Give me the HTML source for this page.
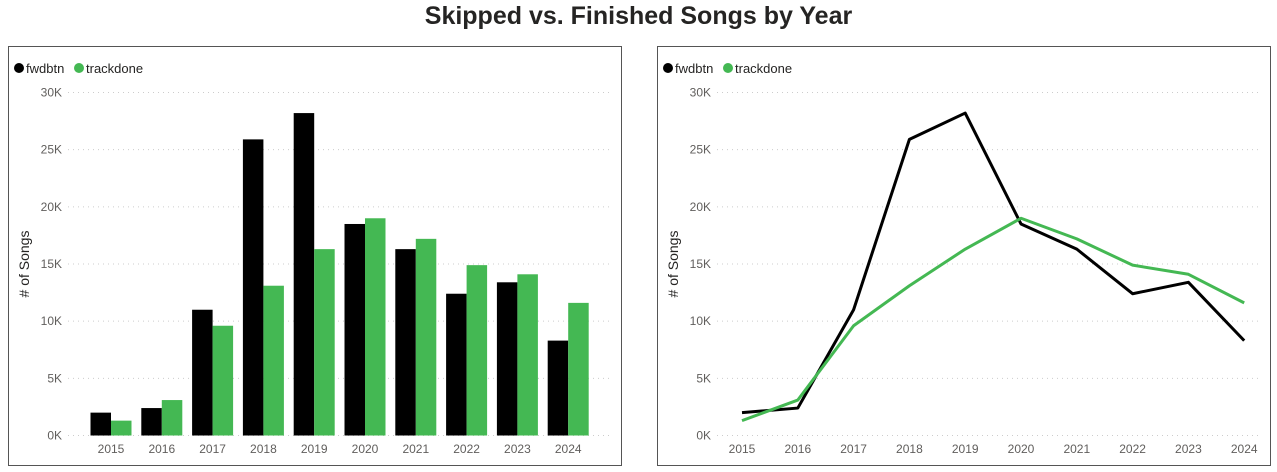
<!DOCTYPE html>
<html><head><meta charset="utf-8"><style>
body{margin:0;width:1277px;height:472px;background:#fff;font-family:"Liberation Sans",sans-serif;overflow:hidden;position:relative}
.title{position:absolute;left:0;width:1277px;top:2px;text-align:center;font-size:25px;font-weight:bold;color:#252423}
.panel{position:absolute;top:46px;width:614px;height:420px;border:1px solid #555;box-sizing:border-box}
svg{position:absolute;left:0;top:0}
text{font-family:"Liberation Sans",sans-serif}
</style></head><body>
<div class="title">Skipped vs. Finished Songs by Year</div>
<div class="panel" style="left:8px"></div>
<div class="panel" style="left:657px"></div>
<svg id="s" width="1277" height="472"></svg>
<script>
const years=["2015","2016","2017","2018","2019","2020","2021","2022","2023","2024"];
const fwdbtn=[2.0,2.4,11.0,25.9,28.2,18.5,16.3,12.4,13.4,8.3];
const trackdone=[1.3,3.1,9.6,13.1,16.3,19.0,17.2,14.9,14.1,11.6];
const ticks=[0,5,10,15,20,25,30];
const tickLabels=["0K","5K","10K","15K","20K","25K","30K"];
const NS="http://www.w3.org/2000/svg",s=document.getElementById('s');
const y=v=>435.5-v*(343/30);
function el(t,a,txt){const e=document.createElementNS(NS,t);for(const k in a)e.setAttribute(k,a[k]);if(txt!=null)e.textContent=txt;s.appendChild(e);return e;}
function axes(off,x0,x1,cx){
  ticks.forEach((t,i)=>{
    const g=el('line',{x1:x0,x2:x1,y1:y(t),y2:y(t),stroke:'#ccc','stroke-dasharray':'1 4'});
    
    const l=el('text',{x:x0-6,y:y(t)+4,'text-anchor':'end','font-size':12,fill:'#605e5c'},tickLabels[i]);
    
  });
  years.forEach((yr,i)=>{const l=el('text',{x:cx(i),y:453,'text-anchor':'middle','font-size':12,fill:'#605e5c'},yr);
    });
  const t=el('text',{x:0,y:0,transform:`translate(${off+21},264) rotate(-90)`,'text-anchor':'middle','font-size':14,fill:'#252423'},'# of Songs');
  
  [['fwdbtn','#000',0],['trackdone','#44b853',60]].forEach(([n,c,dx])=>{
    const ci=el('circle',{cx:off+11+dx,cy:68,r:5,fill:c});
    const tx=el('text',{x:off+18+dx,y:73,'font-size':13,fill:'#252423'},n);
  });
}
// bar chart
const bcx=i=>111+i*50.8;
axes(8,68,610,bcx);
years.forEach((yr,i)=>{
  const b1=el('rect',{x:bcx(i)-20.5,y:y(fwdbtn[i]),width:20.5,height:y(0)-y(fwdbtn[i]),fill:'#000'});
  
  const b2=el('rect',{x:bcx(i),y:y(trackdone[i]),width:20.5,height:y(0)-y(trackdone[i]),fill:'#44b853'});
  
});
// line chart
const lcx=i=>742+i*55.8;
axes(657,717,1262,lcx);
[[fwdbtn,'#000','line-fwdbtn'],[trackdone,'#44b853','line-trackdone']].forEach(([d,c,n])=>{
  const p=el('polyline',{points:d.map((v,i)=>lcx(i)+','+y(v)).join(' '),fill:'none',stroke:c,'stroke-width':3,'stroke-linejoin':'round'});
  
});
</script>
</body></html>
